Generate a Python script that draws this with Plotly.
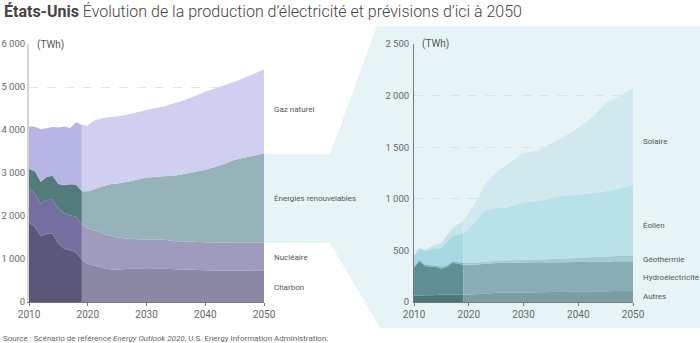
import plotly.graph_objects as go

W, H = 700, 343

years = [2010, 2011, 2012, 2013, 2014, 2015, 2016, 2017, 2018, 2019, 2020, 2021, 2022,
         2023, 2024, 2025, 2027, 2030, 2033, 2035, 2037, 2040, 2043, 2045, 2047, 2050]

# Left chart (TWh)
charbon = [1850, 1750, 1530, 1590, 1590, 1360, 1240, 1205, 1150, 985, 890, 850, 820,
           780, 755, 750, 775, 770, 775, 760, 755, 740, 735, 735, 735, 740]
nucleaire = [790, 770, 760, 780, 790, 810, 830, 815, 830, 805, 820, 820, 810,
             790, 785, 750, 695, 680, 675, 650, 650, 650, 650, 645, 645, 640]
gaz = [999, 1033, 1221, 1134, 1130, 1317, 1368, 1307, 1445, 1541, 1532, 1601, 1590,
       1578, 1558, 1558, 1565, 1572, 1629, 1691, 1727, 1815, 1835, 1818, 1870, 1958]

# Right chart: renewables detail (TWh)
autres = [64, 64, 65, 66, 68, 72, 72, 73, 73, 74, 71, 74, 77,
          80, 85, 90, 91, 93, 94, 96, 97, 100, 103, 105, 107, 110]
hydro = [268, 332, 283, 275, 270, 250, 266, 307, 297, 287, 290, 289, 290,
         290, 289, 290, 290, 290, 290, 289, 289, 287, 287, 287, 287, 286]
geo = [15, 16, 16, 16, 16, 16, 16, 16, 16, 16, 17, 17, 18,
       19, 20, 21, 23, 26, 29, 32, 35, 40, 45, 48, 51, 55]
eolien = [101, 106, 131, 153, 166, 184, 231, 244, 269, 288, 331, 387, 446,
          497, 508, 511, 514, 557, 567, 591, 607, 613, 623, 633, 650, 680]
solaire = [3, 4, 12, 25, 38, 50, 60, 78, 98, 120, 154, 177, 209,
           251, 300, 346, 412, 477, 496, 526, 560, 645, 752, 854, 890, 941]

renouv = [a + b + c + d + e for a, b, c, d, e in zip(autres, hydro, geo, eolien, solaire)]

left_series = [
    ("Charbon", charbon, "#5a577b", "#8a88a5"),
    ("Nucléaire", nucleaire, "#736f9f", "#9e9bbd"),
    ("Énergies renouvelables", renouv, "#527b7c", "#95b3b8"),
    ("Gaz naturel", gaz, "#b6b5e5", "#d0cff0"),
]
right_series = [
    ("Autres", autres, "#4e777b", "#7b9ea2"),
    ("Hydroélectricité", hydro, "#5f8e93", "#88aeb3"),
    ("Géothermie", geo, "#7fb3bb", "#a3cbd1"),
    ("Éolien", eolien, "#a6d9e1", "#b9e1e8"),
    ("Solaire", solaire, "#c3e5eb", "#d0e9ef"),
]

SPLIT = 2019
hist_idx = [i for i, y in enumerate(years) if y <= SPLIT]
proj_idx = [i for i, y in enumerate(years) if y >= SPLIT]

fig = go.Figure()

def add_stack(series, xa, ya, tag):
    for part, idx in (("h", hist_idx), ("p", proj_idx)):
        for name, vals, ch, cp in series:
            fig.add_trace(go.Scatter(
                x=[years[i] for i in idx], y=[vals[i] for i in idx],
                stackgroup=tag + part, mode="none",
                fillcolor=ch if part == "h" else cp,
                name=name, showlegend=False, hoverinfo="skip",
                xaxis=xa, yaxis=ya))

add_stack(left_series, "x", "y", "L")
add_stack(right_series, "x2", "y2", "R")

PANEL = "#e6f4f6"
def px(x): return x / W
def py(y): return 1 - y / H

poly = [(264, 154), (330, 154), (377, 26), (700, 26), (700, 328), (380, 328), (330, 243), (264, 243)]
path = "M " + " L ".join(f"{px(a):.5f},{py(b):.5f}" for a, b in poly) + " Z"
fig.add_shape(type="path", path=path, xref="paper", yref="paper",
              fillcolor=PANEL, line=dict(width=0), layer="below")

FONT = "Roboto"
TICKC = "#666"
ydom = [py(302), py(44)]

xcommon = dict(range=[2010, 2050], tickvals=[2010, 2020, 2030, 2040, 2050],
               showline=True, linecolor="#777", linewidth=1, showgrid=False, zeroline=False,
               ticks="outside", ticklen=3, tickcolor="#777", automargin=False,
               tickfont=dict(family=FONT, size=10, color=TICKC), fixedrange=True)

lticks = [0, 1000, 2000, 3000, 4000, 5000, 6000]
rticks = [0, 500, 1000, 1500, 2000, 2500]
def fmt(v):
    return f"{v:,}".replace(",", " ")

fig.update_layout(
    width=W, height=H, margin=dict(l=0, r=0, t=0, b=0, autoexpand=False),
    paper_bgcolor="white", plot_bgcolor="rgba(0,0,0,0)",
    font=dict(family=FONT, color="#555"),
    xaxis=dict(domain=[px(29), px(264)], anchor="y", **xcommon),
    xaxis2=dict(domain=[px(414), px(633)], anchor="y2", **xcommon),
    yaxis=dict(domain=ydom, anchor="x", range=[0, 6000], tickvals=lticks,
               ticktext=[fmt(v) for v in lticks], showline=True, linecolor="#d4d4d4",
               linewidth=2, showgrid=True, gridcolor="#e4e4e4", griddash="dash",
               zeroline=False, ticklabelstandoff=0, automargin=False,
               tickfont=dict(family=FONT, size=9.5, color=TICKC), fixedrange=True),
    yaxis2=dict(domain=ydom, anchor="x2", range=[0, 2500], tickvals=rticks,
                ticktext=[fmt(v) for v in rticks], showline=True, linecolor="#777",
                linewidth=1, showgrid=True, gridcolor="#d5e3e5", griddash="dash",
                zeroline=False, ticklabelstandoff=2, automargin=False,
                tickfont=dict(family=FONT, size=9.5, color=TICKC), fixedrange=True),
)

def ann(text, x, y, size, color="#555", xanchor="left", bg=None, **kw):
    fig.add_annotation(text=text, x=px(x), y=py(y), xref="paper", yref="paper",
                       xanchor=xanchor, yanchor="middle", showarrow=False,
                       font=dict(family=FONT, size=size, color=color, **kw),
                       bgcolor=bg, borderpad=0)

ann("<b>États-Unis</b> Évolution de la production d’électricité et prévisions d’ici à 2050",
    3, 12, 16, color="#444", weight=300)
ann("Source : Scénario de référence <i>Energy Outlook 2020</i>, U.S. Energy Information Administration.",
    2, 338, 8, color="#666")

ann("(TWh)", 36, 45, 10, color="#555", bg="white")
ann("(TWh)", 421, 44, 10, color="#555", bg=PANEL)

left_labels = [("Gaz naturel", 109), ("Énergies renouvelables", 198), ("Nucléaire", 257), ("Charbon", 287)]
for t, y in left_labels:
    ann(t, 273, y, 8)
right_labels = [("Solaire", 141), ("Éolien", 225), ("Géothermie", 259), ("Hydroélectricité", 277), ("Autres", 296)]
for t, y in right_labels:
    ann(t, 642, y, 8)

fig.write_html("out.html")
